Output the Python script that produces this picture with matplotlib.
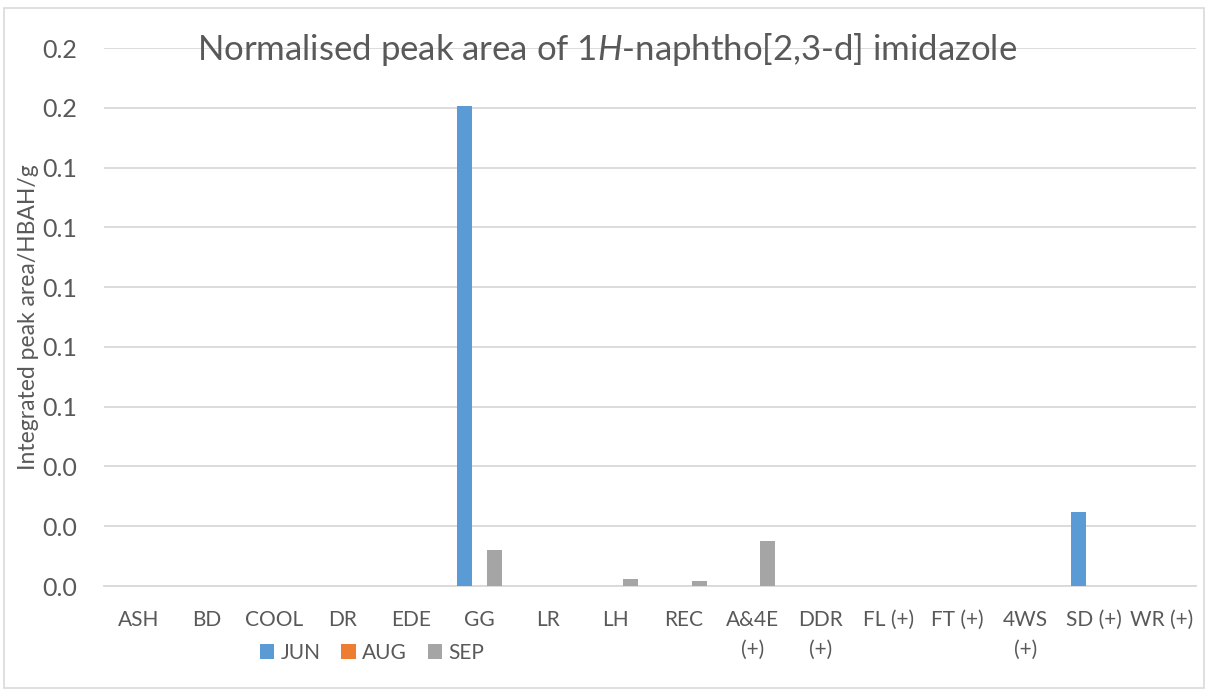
import matplotlib
matplotlib.use("Agg")
import matplotlib.pyplot as plt
import matplotlib.ticker as mticker
from matplotlib.patches import Rectangle
import numpy as np

plt.rcParams['font.family'] = ['Lato', 'DejaVu Sans']
plt.rcParams['mathtext.fontset'] = 'custom'
plt.rcParams['mathtext.it'] = 'Lato:italic'
plt.rcParams['mathtext.rm'] = 'Lato'

# data
sites = ["ASH", "BD", "COOL", "DR", "EDE", "GG", "LR", "LH", "REC",
         "A&4E\n(+)", "DDR\n(+)", "FL (+)", "FT (+)", "4WS\n(+)", "SD (+)", "WR (+)"]
jun = [0, 0, 0, 0, 0, 0.1605, 0, 0, 0, 0, 0, 0, 0, 0, 0.0247, 0]
aug = [0, 0, 0, 0, 0, 0, 0, 0, 0, 0, 0, 0, 0, 0, 0, 0]
sep = [0, 0, 0, 0, 0, 0.012, 0, 0.0022, 0.0016, 0.015, 0, 0, 0, 0, 0, 0]
months = ["JUN", "AUG", "SEP"]
colors = ["#5B9BD5", "#ED7D31", "#A5A5A5"]
yticks = [0, 0.02, 0.04, 0.06, 0.08, 0.10, 0.12, 0.14, 0.16, 0.18]

txt = "#595959"
grid = "#D9D9D9"

fig = plt.figure(figsize=(12.08, 6.91), dpi=100)
fig.patches.append(Rectangle((4 / 1208, 3 / 691), 1200 / 1208, 680 / 691,
                             transform=fig.transFigure, fill=False,
                             edgecolor=grid, linewidth=1.2))
ax = fig.add_axes([104 / 1208, 1 - 586 / 691, 1092 / 1208, 538 / 691])

x = np.arange(len(sites))
w = 0.22
for i, (vals, lab, c) in enumerate(zip([jun, aug, sep], months, colors)):
    ax.bar(x + (i - 1) * w, vals, w, color=c, label=lab, zorder=3)

ax.set_xlim(-0.5, len(sites) - 0.5)
ax.set_ylim(0, 0.18)
ax.set_yticks(yticks)
ax.yaxis.set_major_formatter(mticker.FormatStrFormatter('%.1f'))
ax.set_xticks(x)
ax.set_xticklabels(sites, linespacing=1.65)
ax.grid(axis='y', color=grid, linewidth=1.3, zorder=0)
for s in ['top', 'right', 'left']:
    ax.spines[s].set_visible(False)
ax.spines['bottom'].set_color(grid)
ax.spines['bottom'].set_linewidth(1.3)
ax.tick_params(axis='both', length=0, colors=txt)
ax.tick_params(axis='x', pad=17, labelsize=15)
ax.tick_params(axis='y', pad=19, labelsize=18)

ax.set_ylabel("Integrated peak area/HBAH/g", fontsize=16.5, color=txt)
ax.yaxis.set_label_coords(-65 / 1092, 0.5)

fig.text(607 / 1208, 1 - 50 / 691,
         "Normalised peak area of 1$H$-naphtho[2,3-d] imidazole",
         ha='center', va='center', fontsize=25, color=txt)

leg = ax.legend(loc='center', bbox_to_anchor=(372 / 1208, 1 - 653 / 691),
                bbox_transform=fig.transFigure, ncol=3, frameon=False,
                fontsize=15, handlelength=0.7, handleheight=0.7,
                handletextpad=0.3, columnspacing=1.0, labelcolor=txt)

fig.savefig("out.png", dpi=100)
